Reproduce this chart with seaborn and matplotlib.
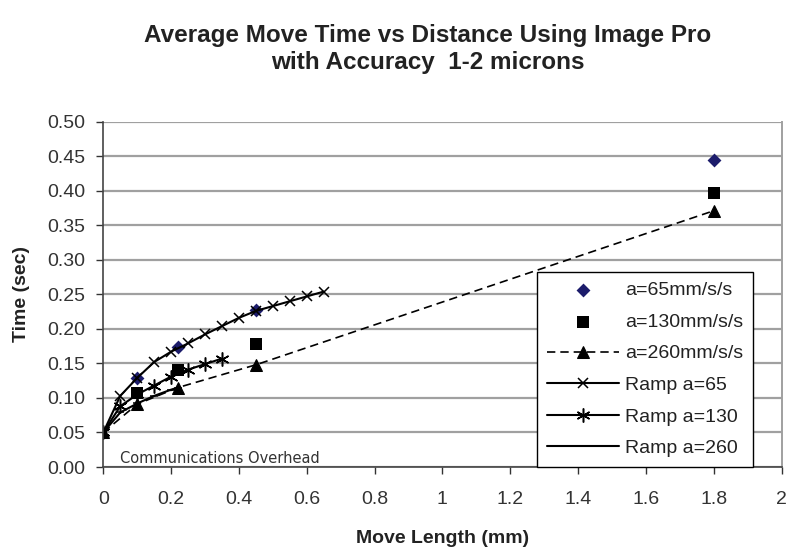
import numpy as np
import pandas as pd
import matplotlib
matplotlib.use("Agg")
import matplotlib.pyplot as plt
import seaborn as sns

# ---- data ----
x_meas = [0.1, 0.22, 0.45, 1.8]
t_a65 = [0.129, 0.174, 0.227, 0.445]
t_a130 = [0.107, 0.140, 0.178, 0.397]
x_a260 = [0.0, 0.1, 0.22, 0.45, 1.8]
t_a260 = [0.050, 0.091, 0.115, 0.148, 0.371]

x_ramp65 = [0.0, 0.05, 0.10, 0.15, 0.20, 0.25, 0.30, 0.35, 0.40, 0.45, 0.50, 0.55, 0.60, 0.65]
t_ramp65 = [0.050, 0.103, 0.129, 0.152, 0.167, 0.179, 0.192, 0.204, 0.216, 0.226, 0.233, 0.240, 0.247, 0.254]
x_ramp130 = [0.0, 0.05, 0.10, 0.15, 0.20, 0.25, 0.30, 0.35]
t_ramp130 = [0.050, 0.088, 0.105, 0.118, 0.131, 0.141, 0.149, 0.157]
x_ramp260 = [0.0, 0.05, 0.10, 0.15, 0.20, 0.22]
t_ramp260 = [0.050, 0.079, 0.092, 0.103, 0.112, 0.115]

labels = ["a=65mm/s/s", "a=130mm/s/s", "a=260mm/s/s",
          "Ramp a=65", "Ramp a=130", "Ramp a=260"]
title_text = "Average Move Time vs Distance Using Image Pro\nwith Accuracy  1-2 microns"
x_ticks = [0, 0.2, 0.4, 0.6, 0.8, 1.0, 1.2, 1.4, 1.6, 1.8, 2.0]
x_tick_labels = ["0", "0.2", "0.4", "0.6", "0.8", "1", "1.2", "1.4", "1.6", "1.8", "2"]
y_ticks = [0.00, 0.05, 0.10, 0.15, 0.20, 0.25, 0.30, 0.35, 0.40, 0.45, 0.50]

sns.set_theme(style="white")
plt.rcParams['font.family'] = ['Liberation Sans', 'DejaVu Sans']

W, H = 790, 547
fig = plt.figure(figsize=(W / 100, H / 100), dpi=100)
L, R, B, T = 103.3, 781.5, 467.0, 121.7
ax = fig.add_axes([L / W, 1 - B / H, (R - L) / W, (B - T) / H])

# gridlines
ax.set_axisbelow(True)
ax.yaxis.grid(True, color="#a0a0a0", linewidth=1.6)
ax.xaxis.grid(False)

# Ramp lines
sns.lineplot(x=x_ramp65, y=t_ramp65, ax=ax, color="black", linewidth=1.5,
             marker="x", markersize=7, markeredgewidth=1.1, markeredgecolor="black",
             estimator=None, sort=False, label=labels[3])
sns.lineplot(x=x_ramp130, y=t_ramp130, ax=ax, color="black", linewidth=1.5,
             marker=(6, 2, 0), markersize=10, markeredgewidth=1.1, markeredgecolor="black",
             estimator=None, sort=False, label=labels[4])
sns.lineplot(x=x_ramp260, y=t_ramp260, ax=ax, color="black", linewidth=1.5,
             marker="_", markersize=6, markeredgewidth=1.1, markeredgecolor="black",
             estimator=None, sort=False, label=labels[5])

# a=260 dashed with triangles
sns.lineplot(x=x_a260, y=t_a260, ax=ax, color="black", linewidth=1.2, linestyle=(0, (5, 3)),
             marker="^", markersize=8, markeredgecolor="black", markerfacecolor="black",
             estimator=None, sort=False, label=labels[2])

# markers only
sns.scatterplot(x=x_meas, y=t_a130, ax=ax, marker="s", s=80, color="black",
                edgecolor="black", linewidth=0, label=labels[1])
sns.scatterplot(x=x_meas, y=t_a65, ax=ax, marker="D", s=50, color="#1c1c6b",
                edgecolor="#1c1c6b", linewidth=0, label=labels[0])

ax.set_xlim(0, 2)
ax.set_ylim(0, 0.5)
ax.set_xticks(x_ticks)
ax.set_xticklabels(x_tick_labels)
ax.set_yticks(y_ticks)
ax.set_yticklabels([f"{v:.2f}" for v in y_ticks])
ax.tick_params(axis="both", labelsize=14, colors="#333333", length=5, width=1,
               direction="out", bottom=True, left=True)
ax.tick_params(axis="x", pad=12)
ax.tick_params(axis="y", pad=8)

for side in ["left", "bottom"]:
    ax.spines[side].set_color("#444444")
    ax.spines[side].set_linewidth(1.2)
for side in ["right", "top"]:
    ax.spines[side].set_color("#a0a0a0")
    ax.spines[side].set_linewidth(1.4)
ax.spines["top"].set_visible(False)

ax.set_xlabel("Move Length (mm)", fontsize=14, fontweight="bold", color="#222222", labelpad=16)
ax.set_ylabel("Time (sec)", fontsize=14, fontweight="bold", color="#222222", labelpad=12)

fig.text(428 / W, 1 - 49 / H, title_text, ha="center", va="center", fontsize=17.5,
         fontweight="bold", color="#222222", linespacing=1.2)

ax.text(0.05, 0.013, "Communications Overhead", fontsize=10.5, color="#333333",
        family=["DejaVu Sans"], ha="left", va="center")

handles, lbls = ax.get_legend_handles_labels()
order = [lbls.index(l) for l in labels]
leg = ax.legend([handles[i] for i in order], [lbls[i] for i in order],
                loc="lower left", bbox_to_anchor=(0.64, 0.0), borderaxespad=0,
                fontsize=14, frameon=True, fancybox=False, edgecolor="black",
                framealpha=1, handlelength=3.7, handletextpad=0.3,
                labelspacing=0.72, borderpad=0.5)
leg.get_frame().set_linewidth(1.0)
for t in leg.get_texts():
    t.set_color("#222222")

fig.savefig("out.png", dpi=100, facecolor="white")
